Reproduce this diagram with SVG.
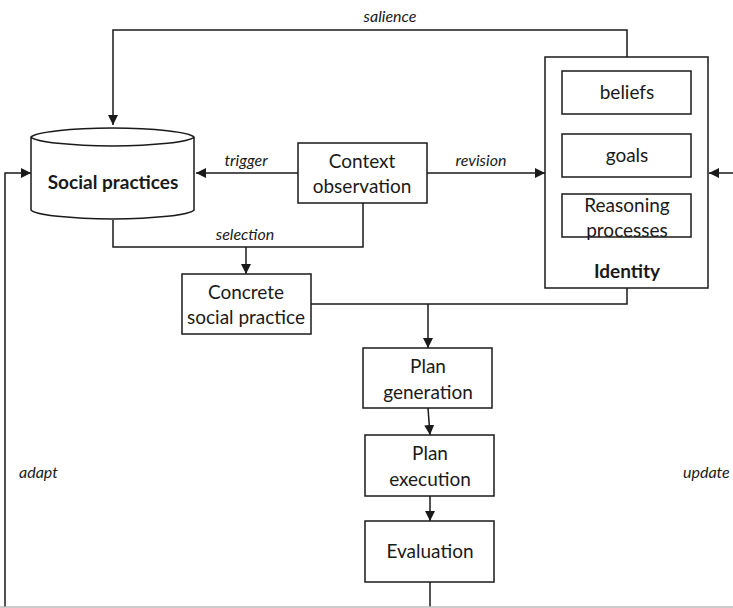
<svg xmlns="http://www.w3.org/2000/svg" width="733" height="608" viewBox="0 0 733 608">
<defs>
<marker id="ah" viewBox="0 0 10 10" refX="10" refY="5" markerWidth="10" markerHeight="10" markerUnits="userSpaceOnUse" orient="auto">
<path d="M0,0 L10,5 L0,10 z" fill="#1a1a1a"/>
</marker>
<style>
.box{fill:#fff;stroke:#1a1a1a;stroke-width:1.5}
.t{font-family:Lato,"Open Sans",sans-serif;font-size:19px;fill:#1a1a1a;text-anchor:middle}
.b{font-weight:bold}
.lbl{font-family:Lato,"Open Sans",sans-serif;font-size:16px;font-style:italic;fill:#1a1a1a}
.c{fill:none;stroke:#1a1a1a;stroke-width:1.5}
</style>
</defs>
<rect width="733" height="608" fill="#fff"/>
<g id="connectors">
<path class="c" d="M627,57 V30 H113 V125" marker-end="url(#ah)"/>
<path class="c" d="M298,173 H196" marker-end="url(#ah)"/>
<path class="c" d="M427,173 H545" marker-end="url(#ah)"/>
<path class="c" d="M733,173 H709" marker-end="url(#ah)"/>
<path class="c" d="M113,220 V247 H363 V203"/>
<path class="c" d="M246,247 V274" marker-end="url(#ah)"/>
<path class="c" d="M311,304 H627 V288"/>
<path class="c" d="M428,304 V348" marker-end="url(#ah)"/>
<path class="c" d="M428,408 L430,435" marker-end="url(#ah)"/>
<path class="c" d="M430,496 V521" marker-end="url(#ah)"/>
<path class="c" d="M430,582 V607"/>
<path class="c" d="M5,607 V173 H31" marker-end="url(#ah)"/>
<line x1="0" y1="607" x2="733" y2="607" stroke="#bbb" stroke-width="1.5"/>
<text class="lbl" x="390" y="22" text-anchor="middle">salience</text>
<text class="lbl" x="246" y="166" text-anchor="middle">trigger</text>
<text class="lbl" x="481" y="166" text-anchor="middle">revision</text>
<text class="lbl" x="245" y="240" text-anchor="middle">selection</text>
<text class="lbl" x="19" y="478">adapt</text>
<text class="lbl" x="683" y="478">update</text>
</g>
<g id="social-practices">
<path class="box" d="M31,137 V210 A82,10 0 0 0 194,210 V137 A82,10 0 0 0 31,137 A82,10 0 0 0 194,137"/>
<text class="t b" x="113" y="189">Social practices</text>
</g>
<g id="context-observation">
<rect class="box" x="298" y="143" width="129" height="60"/>
<text class="t" x="362" y="168">Context</text>
<text class="t" x="362" y="193">observation</text>
</g>
<g id="identity">
<rect class="box" x="545" y="57" width="163" height="231"/>
<rect class="box" x="562" y="71" width="129" height="43"/>
<text class="t" x="627" y="99">beliefs</text>
<rect class="box" x="562" y="134" width="129" height="43"/>
<text class="t" x="627" y="162">goals</text>
<rect class="box" x="562" y="194" width="129" height="43"/>
<text class="t" x="627" y="212">Reasoning</text>
<text class="t" x="627" y="237">processes</text>
<text class="t b" x="627" y="278">Identity</text>
</g>
<g id="concrete-social-practice">
<rect class="box" x="182" y="274" width="129" height="60"/>
<text class="t" x="246" y="299">Concrete</text>
<text class="t" x="246" y="324">social practice</text>
</g>
<g id="plan-generation">
<rect class="box" x="363" y="348" width="129" height="60"/>
<text class="t" x="428" y="373">Plan</text>
<text class="t" x="428" y="399">generation</text>
</g>
<g id="plan-execution">
<rect class="box" x="365" y="435" width="129" height="61"/>
<text class="t" x="430" y="460">Plan</text>
<text class="t" x="430" y="486">execution</text>
</g>
<g id="evaluation">
<rect class="box" x="365" y="521" width="129" height="61"/>
<text class="t" x="430" y="558">Evaluation</text>
</g>
</svg>
